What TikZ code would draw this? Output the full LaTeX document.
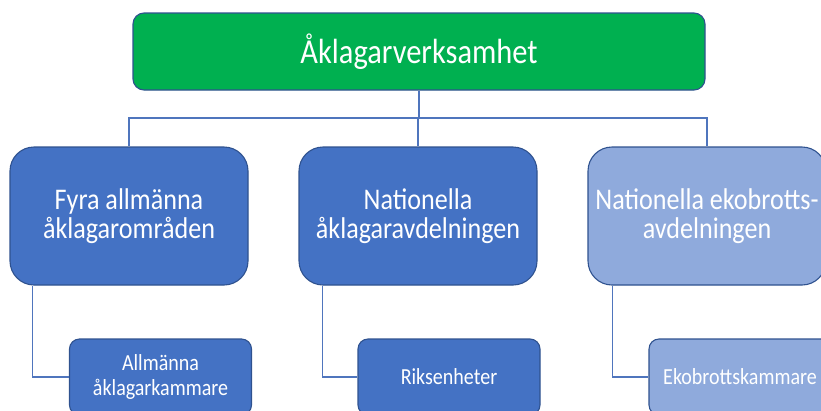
\documentclass[tikz,border=0pt]{standalone}
\usepackage{fontspec}
\setmainfont{Carlito}[FakeStretch=0.87]
\definecolor{topgreen}{HTML}{00B050}
\definecolor{midblue}{HTML}{4472C4}
\definecolor{lightblue}{HTML}{8FAADC}
\definecolor{edgeblue}{HTML}{2F528F}
\definecolor{linkblue}{HTML}{4F75BD}
\tikzset{
  topbox/.style={draw=edgeblue, fill=topgreen, line width=1.1pt, rounded corners=11pt,
    minimum width=572pt, minimum height=77pt, text=white, font=\fontsize{35}{40}\selectfont, inner sep=0pt},
  childbox/.style={draw=edgeblue, fill=midblue, line width=1.1pt, rounded corners=24pt,
    minimum width=238pt, minimum height=138pt, text=white, align=center,
    font=\fontsize{30}{28.5}\selectfont, inner sep=0pt},
  lightchild/.style={childbox, fill=lightblue},
  gbox/.style={draw=edgeblue, fill=midblue, line width=1.1pt, rounded corners=10pt,
    minimum width=182pt, minimum height=76pt, text=white, align=center,
    font=\fontsize{23}{25}\selectfont, inner sep=0pt},
  lightg/.style={gbox, fill=lightblue},
  link/.style={draw=linkblue, line width=1.2pt}
}
\begin{document}
\begin{tikzpicture}[x=1pt,y=-1pt]
\useasboundingbox (0,0) rectangle (821,410);
\clip (0,0) rectangle (821,410);
\node[topbox] (top) at (419,51.5) {Åklagarverksamhet};
\node[childbox] (c1) at (129,216) {Fyra allmänna\\åklagarområden};
\node[childbox] (c2) at (418,216) {Nationella\\åklagaravdelningen};
\node[lightchild] (c3) at (707,216) {Nationella ekobrotts-\\avdelningen};
\node[gbox] (g1) at (160.5,377) {Allmänna\\åklagarkammare};
\node[gbox] (g2) at (449,377) {Riksenheter};
\node[lightg] (g3) at (740,377) {Ekobrottskammare};
\coordinate (j) at (419,118);
\draw[link] (top.south) -- (j);
\draw[link] (j) -| (c1.north);
\draw[link] (j) -| (c3.north);
\draw[link] (j) -| (c2.north);
\draw[link] ([xshift=23pt]c1.south west) |- (g1.west);
\draw[link] ([xshift=24pt]c2.south west) |- (g2.west);
\draw[link] ([xshift=25pt]c3.south west) |- (g3.west);
\end{tikzpicture}
\end{document}
